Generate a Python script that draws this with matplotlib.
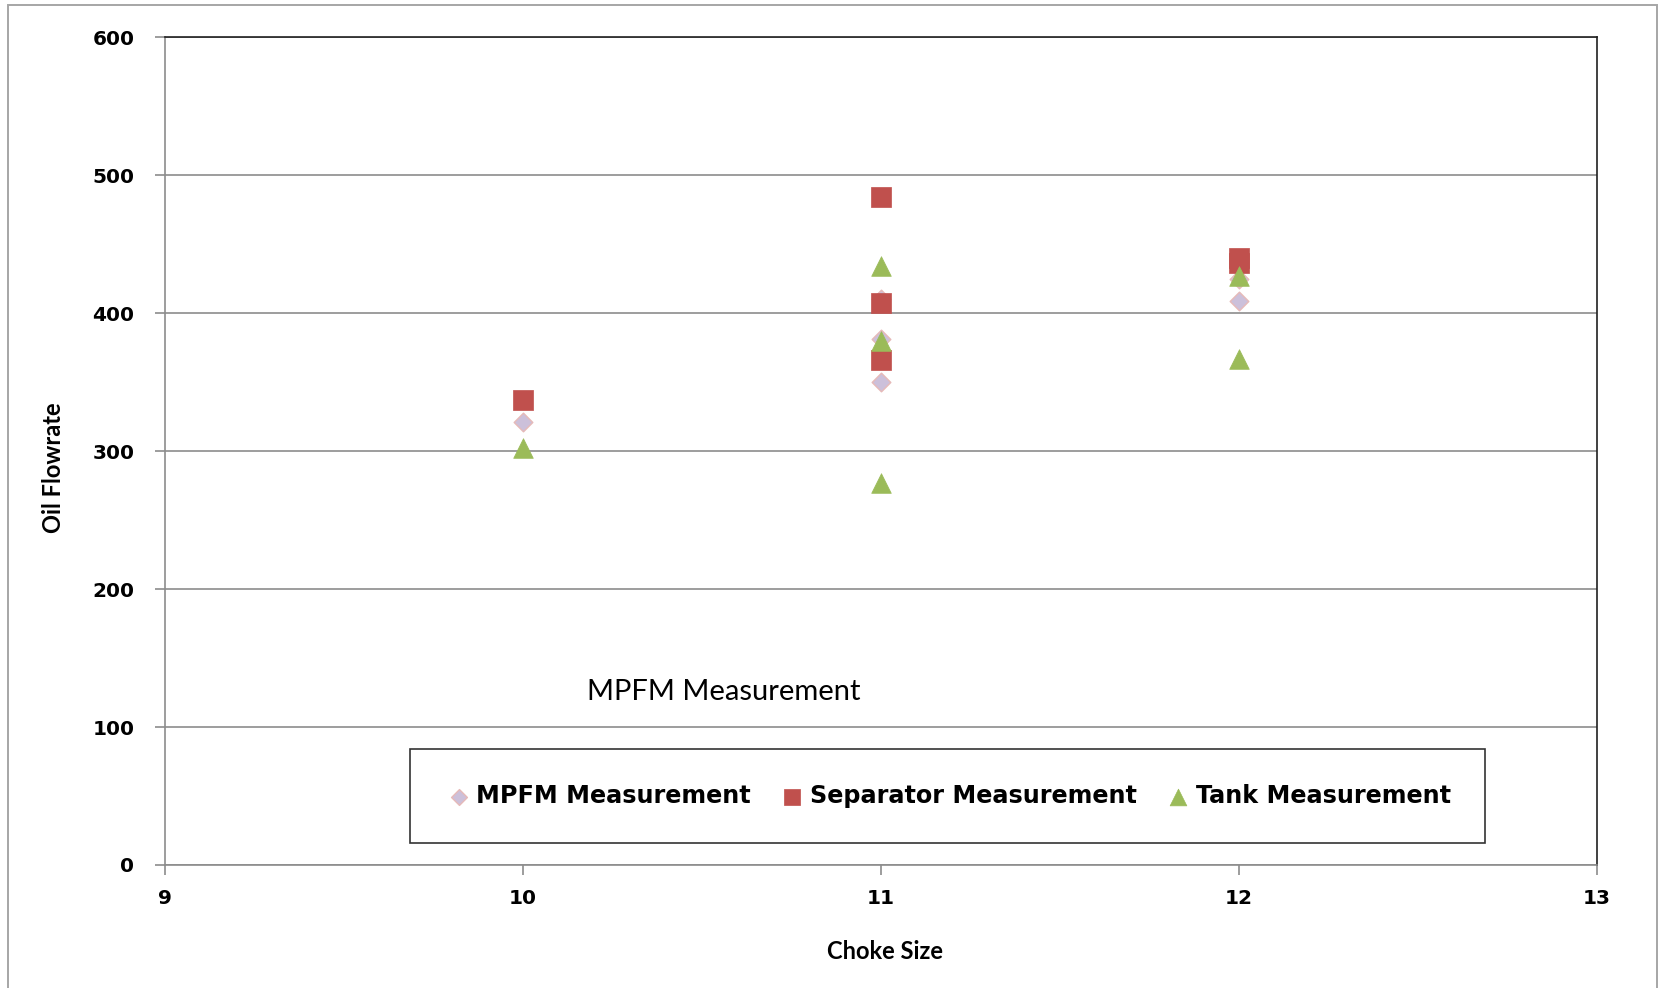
import matplotlib
matplotlib.use("Agg")
import matplotlib.pyplot as plt
from matplotlib.patches import Rectangle

# flow test results per choke size
mpfm_choke = [10, 11, 11, 11, 12, 12]
mpfm_rate = [321, 410, 381, 350, 425, 409]

sep_choke = [10, 11, 11, 11, 12, 12]
sep_rate = [337, 484, 407, 366, 440, 436]

tank_choke = [10, 11, 11, 11, 12, 12]
tank_rate = [302, 434, 380, 277, 427, 367]

x_ticks = [9, 10, 11, 12, 13]
y_ticks = [0, 100, 200, 300, 400, 500, 600]

fig = plt.figure(figsize=(16.67, 9.88), dpi=100)
ax = fig.add_axes([0.099, 0.1245, 0.859, 0.838])

# outer chart border (runs off the bottom edge)
fig.patches.append(Rectangle((8 / 1667, -0.02), 1657 / 1667 - 8 / 1667, 1.02 - 5 / 988,
                             transform=fig.transFigure, fill=False,
                             edgecolor="#a6a6a6", linewidth=1.4))

ax.scatter(mpfm_choke, mpfm_rate, marker="D", s=90, color="#ccc0da",
           edgecolors="#e6b9b8", linewidths=1, label="MPFM Measurement", zorder=3)
ax.scatter(sep_choke, sep_rate, marker="s", s=190, color="#c0504d",
           edgecolors="#c0504d", linewidths=0.5, label="Separator Measurement", zorder=3)
ax.scatter(tank_choke, tank_rate, marker="^", s=200, color="#9bbb59",
           edgecolors="#9bbb59", linewidths=0.5, label="Tank Measurement", zorder=4)

ax.set_xlim(9, 13)
ax.set_ylim(0, 600)
ax.set_xticks(x_ticks)
ax.set_yticks(y_ticks)
ax.yaxis.grid(True, color="#8c8c8c", linewidth=1.2)
ax.set_axisbelow(True)

for side in ("left", "bottom"):
    ax.spines[side].set_color("#8c8c8c")
    ax.spines[side].set_linewidth(1.2)
for side in ("top", "right"):
    ax.spines[side].set_color("#202020")
    ax.spines[side].set_linewidth(1.2)

ax.tick_params(axis="both", direction="out", length=7, color="#8c8c8c", width=1.2,
               labelsize=14.5)
ax.tick_params(axis="x", pad=10)
ax.tick_params(axis="y", pad=15)
for lbl in ax.get_xticklabels() + ax.get_yticklabels():
    lbl.set_fontweight("bold")

ax.set_xlabel("Choke Size", fontsize=17, fontweight="bold", family="Lato")
ax.set_ylabel("Oil Flowrate", fontsize=17, fontweight="bold", family="Lato")
ax.xaxis.set_label_coords(0.503, -0.090)
ax.yaxis.set_label_coords(-0.070, 0.48)

ax.text(10.56, 125.5, "MPFM Measurement", fontsize=21, family="Lato", ha="center",
        va="center")

leg = ax.legend(loc="lower left", bbox_to_anchor=(0.1708, 0.027, 0.7513, 0.114),
                mode="expand", ncol=3, frameon=True, fancybox=False,
                prop={"weight": "bold", "size": 17.2}, handletextpad=0.15,
                handlelength=1.2, borderaxespad=0, columnspacing=1.0,
                markerscale=0.85, borderpad=1.45)
leg.get_frame().set_edgecolor("#000000")
leg.get_frame().set_linewidth(1.2)

fig.savefig("out.png", dpi=100)
